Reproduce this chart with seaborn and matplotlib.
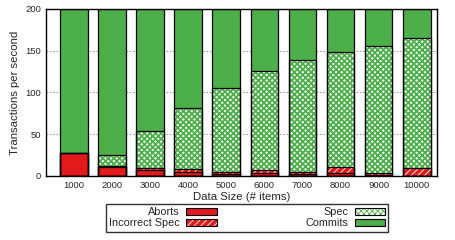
import matplotlib
matplotlib.use("Agg")
import matplotlib.pyplot as plt
import seaborn as sns
import numpy as np
import pandas as pd
from matplotlib.patches import Patch

# values
sizes = ["1000", "2000", "3000", "4000", "5000", "6000", "7000", "8000", "9000", "10000"]
aborts = [28, 11, 6.5, 5, 2, 3, 2, 4, 1, 0.5]
incorrect = [0, 1, 3, 3, 2.5, 4, 2.5, 6.5, 2.5, 9.5]
spec = [0, 12.7, 44.5, 73, 100.5, 118.7, 134.5, 137.5, 152.2, 155]
commits = [172, 175.3, 146, 119, 95, 74.3, 61, 52, 44.3, 35]

red = "#e31a1c"
green = "#4caf4a"

sns.set_style("white")
plt.rcParams["font.family"] = ["Liberation Sans", "DejaVu Sans"]

df = pd.DataFrame({"size": sizes, "aborts": aborts, "incorrect": incorrect,
                   "spec": spec, "commits": commits})
# cumulative tops for stacking (drawn tallest first)
df["t_abort"] = df["aborts"]
df["t_inc"] = df["t_abort"] + df["incorrect"]
df["t_spec"] = df["t_inc"] + df["spec"]
df["t_commit"] = df["t_spec"] + df["commits"]

fig = plt.figure(figsize=(4.55, 2.40), dpi=100)
ax = fig.add_axes([0.101, 0.267, 0.859, 0.6955])

bw = 0.73
common = dict(data=df, x="size", errorbar=None, saturation=1, width=bw, ax=ax)

spec_hatch = "xxxxxx"
inc_hatch = "/////"

sns.barplot(y="t_commit", color=green, facecolor=green, edgecolor=green, linewidth=0, **common)
plt.rcParams["hatch.linewidth"] = 1.3
sns.barplot(y="t_spec", color="white", facecolor="white", edgecolor=green,
            hatch=spec_hatch, linewidth=0, **common)
plt.rcParams["hatch.linewidth"] = 0.6
sns.barplot(y="t_inc", color=red, facecolor=red, edgecolor="white",
            hatch=inc_hatch, linewidth=0, **common)
sns.barplot(y="t_abort", color=red, facecolor=red, edgecolor=red, linewidth=0, **common)

# black outlines of every segment
for col in ["t_commit", "t_spec", "t_inc", "t_abort"]:
    sns.barplot(y=col, color="black", facecolor="none", edgecolor="black",
                linewidth=0.9, **common)

ax.set_xlim(-0.74, 9.53)
ax.set_ylim(0, 200)
ax.set_yticks([0, 50, 100, 150, 200])
ax.set_axisbelow(True)
ax.yaxis.grid(True, linestyle=(0, (2, 2)), color="#888888", linewidth=0.6)
for s in ax.spines.values():
    s.set_visible(True)
    s.set_color("black")
    s.set_linewidth(1.0)
ax.tick_params(axis="both", labelsize=6.8, direction="in", length=3, width=0.8)
ax.tick_params(axis="x", length=0, pad=4)
ax.set_xlabel("Data Size (# items)", fontsize=8.2, labelpad=1)
ax.set_ylabel("Transactions per second", fontsize=8.2, labelpad=4)

plt.rcParams["hatch.linewidth"] = 1.3
spec_h = Patch(facecolor="white", edgecolor=green, hatch=spec_hatch, linewidth=0)
plt.rcParams["hatch.linewidth"] = 0.6
inc_h = Patch(facecolor=red, edgecolor="white", hatch=inc_hatch, linewidth=0)
handles = [
    Patch(facecolor=red, edgecolor="black", linewidth=0.8),
    (inc_h, Patch(facecolor="none", edgecolor="black", linewidth=0.8)),
    (spec_h, Patch(facecolor="none", edgecolor="black", linewidth=0.8)),
    Patch(facecolor=green, edgecolor="black", linewidth=0.8),
]
labels = ["Aborts", "Incorrect Spec", "Spec", "Commits"]
leg = fig.legend(handles, labels, loc="center", bbox_to_anchor=(0.543, 0.092),
                 ncol=2, markerfirst=False, fontsize=7.8, frameon=True,
                 fancybox=False, edgecolor="black", handlelength=2.8,
                 handleheight=0.55, columnspacing=8.2, labelspacing=0.1,
                 borderpad=0.3, handletextpad=0.6)
leg.get_frame().set_linewidth(1.0)

fig.savefig("out.png", dpi=100)
